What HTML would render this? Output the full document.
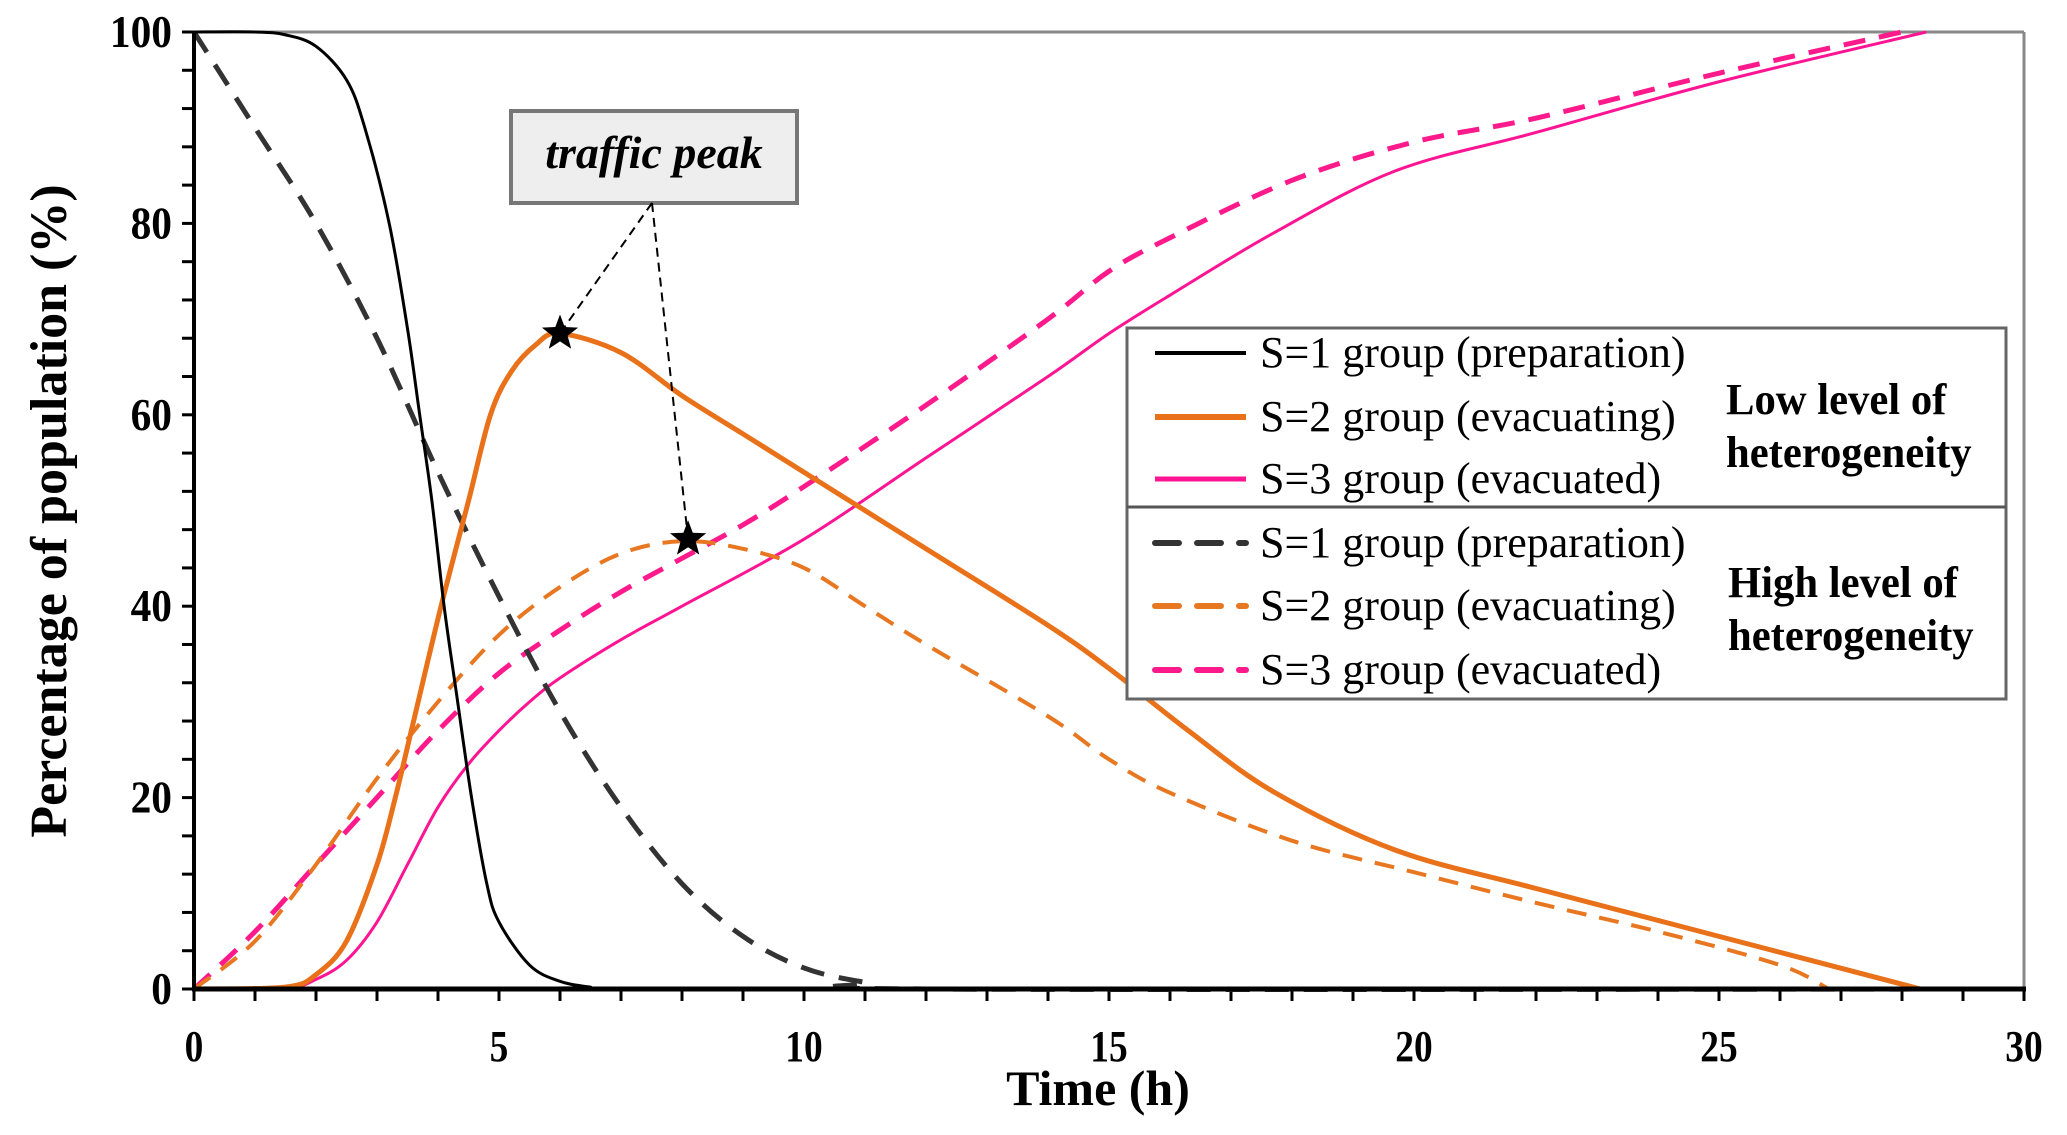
<!DOCTYPE html>
<html><head><meta charset="utf-8">
<style>
html,body{margin:0;padding:0;background:#fff;}
svg{display:block;font-family:"Liberation Serif",serif;}
</style></head>
<body>
<svg id="chart" width="2067" height="1135" viewBox="0 0 2067 1135" xmlns="http://www.w3.org/2000/svg">
<g id="plot"></g>
</svg>
<script>
// ---- data ----
const s1LowT = [0,1,1.5,2,2.5,2.8,3.2,3.5,3.7,3.9,4.1,4.3,4.55,4.8,5,5.5,6,6.5,7,30];
const s1LowV = [100,100,99.7,98.5,95,90,80,69,60,51,40,31,20,11,7,2.5,0.8,0.2,0,0];
const s1HighT = [0,1,2,3,4,5,6,7,8,9,10,11,12,30];
const s1HighV = [100,90,80,68,54,41,29,19,11,5.5,2.2,0.7,0,0];
const s2LowT = [0,1.5,2,2.5,3,3.3,3.6,4.05,4.5,4.86,5.2,5.6,6,7,8,9,10,12,14,15,16.3,17.7,19.7,22,25,28.3];
const s2LowV = [0,0.2,1.5,5,13,20,28,40,51,60,64.5,67.3,68.5,66.5,62,58,54,46,38,33.5,27,20.6,14.5,10.5,5.5,0];
const s2HighT = [0,1,2,3,4,5,6,7,8,9,10,11,12,14,15,16,18,20,22,24,26,26.8];
const s2HighV = [0,5,13,22,30,37,42,45.5,46.8,46,44,40,36,28.5,24,20.5,15.5,12.2,9,6,2.5,0];
const s3LowT = [0,1.5,2,2.5,3,3.5,4,4.5,5,5.5,6,7,8,10,12,14,15,16,17.7,19.7,22,25,28.4];
const s3LowV = [0,0.1,1,3,7,13,19,23.5,27,30,32.5,36.5,40,47,55.5,64,68.5,72.5,79,85.5,89.5,94.8,100];
const s3HighT = [0,1,2,3,4,5,6,7,8,9,10,12,14,15,16,18,20,22,25,28];
const s3HighV = [0,6,13,20,27,33,37.5,41.5,45,48.5,52.5,61,70,75,78.5,84.5,88.5,91,95.7,100];
const peakT = [6,8.1];
const peakV = [68.5,47];
const xTicks = [0,5,10,15,20,25,30];
const yTicks = [0,20,40,60,80,100];

// ---- axes ----
const X0=194,X1=2024,Y0=989,Y1=32;
const sx=t=>X0+(t/30)*(X1-X0);
const sy=v=>Y0-(v/100)*(Y0-Y1);
const NS="http://www.w3.org/2000/svg";
const svg=document.getElementById('chart');
function mk(tag,attrs,parent){const e=document.createElementNS(NS,tag);for(const k in attrs)e.setAttribute(k,attrs[k]);(parent||svg).appendChild(e);return e;}

let e=mk('line',{x1:X0,y1:Y1,x2:X1,y2:Y1,stroke:'#888','stroke-width':3});


e=mk('line',{x1:X1,y1:Y1,x2:X1,y2:Y0,stroke:'#888','stroke-width':3});



for(let t=0;t<=30;t++){
  e=mk('line',{x1:sx(t),y1:Y0,x2:sx(t),y2:Y0+12,stroke:'#000','stroke-width':3});
  
  
}
for(let v=0;v<=100;v+=4){
  e=mk('line',{x1:X0-12,y1:sy(v),x2:X0,y2:sy(v),stroke:'#000','stroke-width':3});
  
  
}
xTicks.forEach(t=>{
  e=mk('text',{x:sx(t),y:1061,'text-anchor':'middle','font-size':44,'font-weight':'bold',transform:'translate('+sx(t)+',0) scale(0.85,1) translate('+(-sx(t))+',0)'});
  e.textContent=t;
  
  
});
yTicks.forEach(v=>{
  e=mk('text',{x:172,y:sy(v)+15,'text-anchor':'end','font-size':46,'font-weight':'bold',transform:'translate(172,0) scale(0.9,1) translate(-172,0)'});
  e.textContent=v;
  
  
});
e=mk('text',{x:1098,y:1105,'text-anchor':'middle','font-size':50,'font-weight':'bold'});
e.textContent='Time (h)';


e=mk('text',{x:0,y:0,'text-anchor':'middle','font-size':52,'font-weight':'bold',transform:'translate(66,511) rotate(-90)'});
e.textContent='Percentage of population (%)';



function pathOf(T,V){
  const p=T.map((t,i)=>[sx(t),sy(V[i])]);
  let d='M'+p[0][0]+','+p[0][1];
  for(let i=0;i<p.length-1;i++){
    const a=p[Math.max(i-1,0)],b=p[i],c=p[i+1],dd=p[Math.min(i+2,p.length-1)];
    const c1=[b[0]+(c[0]-a[0])/6,b[1]+(c[1]-a[1])/6];
    const c2=[c[0]-(dd[0]-b[0])/6,c[1]-(dd[1]-b[1])/6];
    d+=' C'+c1[0]+','+c1[1]+' '+c2[0]+','+c2[1]+' '+c[0]+','+c[1];
  }
  return d;
}
function series(T,V,col,w,dash,name){
  const el=mk('path',{d:pathOf(T,V),fill:'none',stroke:col,'stroke-width':w,'stroke-dasharray':dash||'none','stroke-linejoin':'round'});
  
  
}
series(s3LowT,s3LowV,'#ff1493',3,null,'s3-low-line');
series(s3HighT,s3HighV,'#ff1a8c',5,'22,14','s3-high-line');
series(s2HighT,s2HighV,'#e87722',4,'20,13','s2-high-line');
series(s1HighT,s1HighV,'#333',5,'24,15','s1-high-line');
series(s2LowT,s2LowV,'#e8711a',5,null,'s2-low-line');
series(s1LowT,s1LowV,'#000',3,null,'s1-low-line');

e=mk('line',{x1:X0,y1:Y1,x2:X0,y2:Y0+2,stroke:'#000','stroke-width':4});


e=mk('line',{x1:X0-2,y1:Y0,x2:X1+2,y2:Y0,stroke:'#000','stroke-width':5});



e=mk('rect',{x:511,y:111,width:286,height:92,fill:'#eeeeee',stroke:'#777','stroke-width':4});


e=mk('text',{x:654,y:168,'text-anchor':'middle','font-size':46,'font-weight':'bold','font-style':'italic'});
e.textContent='traffic peak';


peakT.forEach((t,i)=>{
  e=mk('line',{x1:652,y1:203,x2:sx(t),y2:sy(peakV[i]),stroke:'#000','stroke-width':2,'stroke-dasharray':'9,6'});
  
  
});
function star(cx,cy,r){
  let pts=[];for(let k=0;k<10;k++){const a=-Math.PI/2+k*Math.PI/5;const rr=k%2?r*0.42:r;pts.push((cx+rr*Math.cos(a)).toFixed(1)+','+(cy+rr*Math.sin(a)).toFixed(1));}
  return pts.join(' ');
}
peakT.forEach((t,i)=>{
  e=mk('polygon',{points:star(sx(t),sy(peakV[i]),19),fill:'#000'});
  
  
});

const lg=mk('g',{});


e=mk('rect',{x:1127,y:328,width:879,height:371,fill:'#fff',stroke:'#666','stroke-width':3},lg);


e=mk('line',{x1:1127,y1:507,x2:2006,y2:507,stroke:'#555','stroke-width':3},lg);


const legRows=[
 [353,'#000',4,null,'S=1 group (preparation)'],
 [417,'#e8711a',6,null,'S=2 group (evacuating)'],
 [479,'#ff1493',5,null,'S=3 group (evacuated)'],
 [543,'#333',6,'24,18','S=1 group (preparation)'],
 [606,'#e87722',6,'24,18','S=2 group (evacuating)'],
 [670,'#ff1a8c',6,'24,18','S=3 group (evacuated)']];
legRows.forEach(r=>{
  e=mk('line',{x1:1155,y1:r[0],x2:1246,y2:r[0],stroke:r[1],'stroke-width':r[2],'stroke-dasharray':r[3]||'none','stroke-linecap':r[3]?'round':'butt'},lg);
  
  
  e=mk('text',{x:1260,y:r[0]+14,'font-size':44,transform:'translate(1260,0) scale(1.0,1) translate(-1260,0)'},lg);
  e.textContent=r[4];
  
  
});
[[1726,414,'Low level of'],[1726,467,'heterogeneity'],[1728,597,'High level of'],[1728,650,'heterogeneity']].forEach(r=>{
  e=mk('text',{x:r[0],y:r[1],'text-anchor':'start','font-size':44,'font-weight':'bold',transform:'translate('+r[0]+',0) scale(0.97,1) translate('+(-r[0])+',0)'},lg);
  e.textContent=r[2];
  
  
});
</script>
</body></html>
